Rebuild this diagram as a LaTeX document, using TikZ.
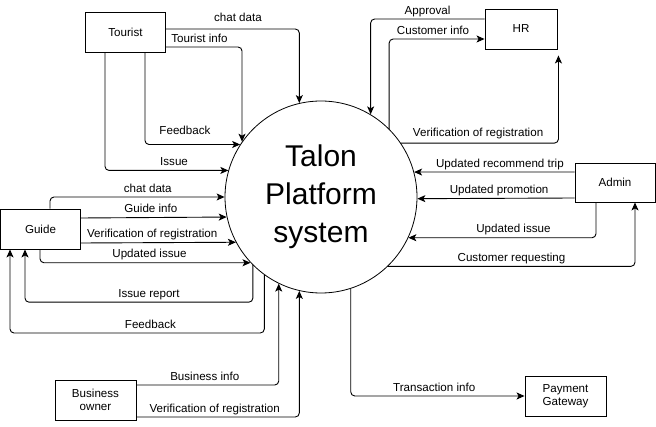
\documentclass[tikz,border=0pt]{standalone}
\usepackage{fontspec}
\setmainfont{Liberation Sans}
\usetikzlibrary{arrows.meta}

\begin{document}
\begin{tikzpicture}[x=1pt, y=-1pt, ->, >={Stealth[length=8pt,width=7pt,inset=2pt]}, line width=0.9pt, rounded corners=4pt,
    main node/.style={circle, draw, line width=0.8pt, minimum size=192pt, inner sep=0pt, align=center, font=\fontsize{30}{38}\selectfont},
    box node/.style={rectangle, draw, sharp corners, minimum width=80pt, minimum height=40pt, inner sep=2pt, align=center},
    lbl/.style={above, inner sep=1.5pt, text depth=3pt}]
    \tikzstyle{every node}=[font=\fontsize{11.6}{13.5}\selectfont]
    \useasboundingbox (0,0) rectangle (656,427);

    \node[main node] (1) at (321,197) {Talon\\Platform\\system};
    \node[box node] (2) at (125.5,32) {Tourist};
    \node[box node, minimum width=72pt] (3) at (521,29) {HR};
    \node[box node, minimum height=39pt] (4) at (615,182.5) {Admin};
    \node[box node] (5) at (40.5,229) {Guide};
    \node[box node, minimum width=81pt] (6) at (95.5,400) {Business\\owner};
    \node[box node, minimum width=81pt] (7) at (565.5,396) {Payment\\Gateway};

    % tourist
    \draw ([yshift=3pt]2.east) -| node[lbl, pos=0.27, yshift=3pt] {chat data} (1.103.9);
    \draw ([yshift=-15pt]2.east) -| node[lbl, pos=0.22] {Tourist info} (1.145.4);
    \draw ([xshift=19.5pt]2.south) |- node[lbl, pos=0.71, yshift=5pt] {Feedback} (1.147.9);
    \draw ([xshift=-20.5pt]2.south) |- node[lbl, pos=0.78] {Issue} (1.164.9);

    % guide
    \draw ([xshift=9.5pt]5.north) |- node[lbl, pos=0.78] {chat data} (1.180);
    \draw ([yshift=11pt]5.east) -- node[lbl, pos=0.48] {Guide info} (1.192.64);
    \draw ([yshift=-14pt]5.east) -- node[lbl, pos=0.46] {Verification of registration} (1.208.63);
    \draw ([xshift=-0.5pt]5.south) |- node[lbl, pos=0.76] {Updated issue} (1.223.43);
    \draw (1.225) -- ++(0,37) -| node[lbl, pos=0.228] {Issue report} ([xshift=-15.5pt]5.south);
    \draw (1.234.31) -- ++(0,58) -| node[lbl, pos=0.224] {Feedback} ([xshift=-30.5pt]5.south);

    % business owner
    \draw ([yshift=15pt]6.east) -| node[lbl, pos=0.24] {Business info} (1.244.06);
    \draw ([yshift=-17pt]6.east) -| node[lbl, pos=0.24] {Verification of registration} (1.257.36);

    % payment gateway
    \draw (1.288.21) |- node[lbl, pos=0.74] {Transaction info} (7.west);

    % hr
    \draw ([yshift=10pt]3.west) -| node[lbl, pos=0.25] {Approval} (1.59.31);
    \draw (1.45.74) |- node[lbl, pos=0.73] {Customer info} ([yshift=-10pt]3.west);
    \draw (1.34.96) -| node[lbl, pos=0.245, yshift=2pt] {Verification of registration} ([xshift=1pt, yshift=-6pt]3.south east);

    % admin
    \draw ([yshift=10.5pt]4.west) -- node[lbl, pos=0.465] {Updated recommend trip} (1.15.1);
    \draw ([yshift=-15.5pt]4.west) -- node[lbl, pos=0.48] {Updated promotion} (1.359.4);
    \draw ([xshift=-19pt]4.south) |- node[lbl, pos=0.72] {Updated issue} (1.335.38);
    \draw (1.314.9) -| node[lbl, pos=0.25] {Customer requesting} ([xshift=20pt]4.south);
\end{tikzpicture}
\end{document}
